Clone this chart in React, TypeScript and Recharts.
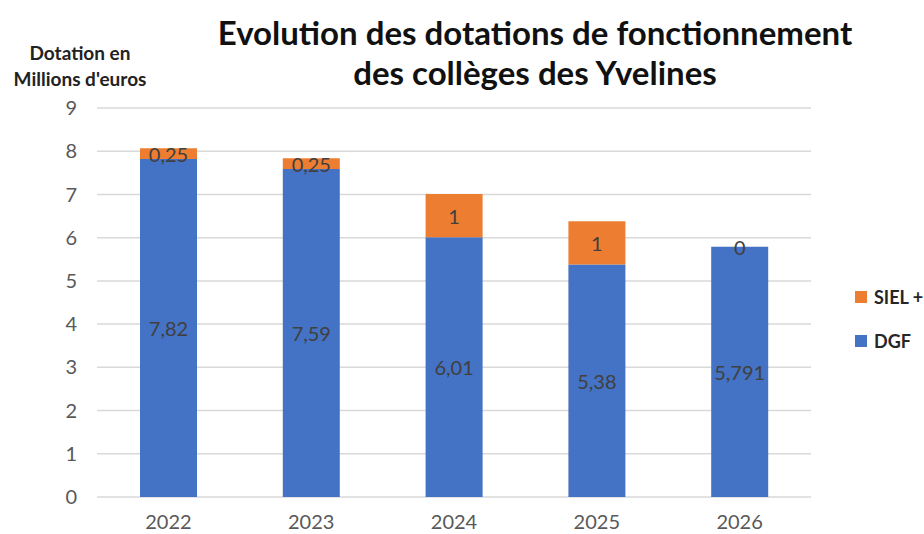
import React from 'react';
import { BarChart, Bar, XAxis, YAxis, CartesianGrid, LabelList } from 'recharts';

const years = ['2022', '2023', '2024', '2025', '2026'];
const dgf = [7.82, 7.59, 6.01, 5.38, 5.791];
const siel = [0.25, 0.25, 1, 1, 0];
const yTicks = [0, 1, 2, 3, 4, 5, 6, 7, 8, 9];
const series = [
  { key: 'siel', name: 'SIEL +', color: '#ED7D31' },
  { key: 'dgf', name: 'DGF', color: '#4472C4' },
];

const rows = years.map((year, i) => ({ year, dgf: dgf[i], siel: siel[i] }));

const fmt = (v: any) => String(v).replace('.', ',');

const FONT = 'Lato, "Open Sans", sans-serif';

const textProps = { textAnchor: 'middle' as const, dominantBaseline: 'central' as const, fill: '#404040', fontSize: 20, fontFamily: FONT };

const SegmentLabel = (props: any) => {
  const { x, y, width, height, value } = props;
  return (
    <text x={x + width / 2} y={y + height / 2} {...textProps}>
      {fmt(value)}
    </text>
  );
};

// the zero-height SIEL segment is not drawn, so its "0" goes on top of the DGF bar
const DgfLabel = (props: any) => {
  const { x, y, width, height, value, index } = props;
  return (
    <g>
      <text x={x + width / 2} y={y + height / 2} {...textProps}>
        {fmt(value)}
      </text>
      {siel[index] === 0 && (
        <text x={x + width / 2} y={y} {...textProps}>
          {fmt(siel[index])}
        </text>
      )}
    </g>
  );
};

export default function App() {
  return (
    <div style={{ position: 'absolute', left: 0, top: 0, width: 924, height: 534, background: '#fff', fontFamily: FONT }}>
      <div style={{ position: 'absolute', left: 140, width: 790, top: 12, textAlign: 'center', fontSize: 33, fontWeight: 700, lineHeight: '40px', color: '#111' }}>
        Evolution des dotations de fonctionnement
        <br />
        des collèges des Yvelines
      </div>
      <div style={{ position: 'absolute', left: 0, width: 160, top: 40, textAlign: 'center', fontSize: 19, fontWeight: 700, lineHeight: '26px', color: '#222' }}>
        Dotation en
        <br />
        Millions d'euros
      </div>
      <div style={{ position: 'absolute', left: 855, top: 275 }}>
        {series.map((s) => (
          <div key={s.key} style={{ display: 'flex', alignItems: 'center', height: 44 }}>
            <span style={{ width: 12, height: 12, background: s.color, display: 'inline-block', marginRight: 7 }} />
            <span style={{ fontSize: 18, fontWeight: 700, color: '#262626' }}>{s.name}</span>
          </div>
        ))}
      </div>
      <BarChart width={924} height={534} data={rows} margin={{ top: 108, right: 113, bottom: 7, left: 0 }} barSize={57}>
        <CartesianGrid vertical={false} stroke="#d9d9d9" strokeWidth={1.5} />
        <XAxis dataKey="year" height={30} axisLine={false} tickLine={false} tickMargin={12} tick={{ fill: '#595959', fontSize: 20, fontFamily: FONT }} />
        <YAxis width={97} domain={[0, 9]} ticks={yTicks} interval={0} axisLine={false} tickLine={false} tickMargin={14} tick={{ fill: '#595959', fontSize: 20, fontFamily: FONT }} />
        <Bar dataKey="dgf" name="DGF" stackId="a" fill="#4472C4" isAnimationActive={false}>
          <LabelList dataKey="dgf" content={<DgfLabel />} />
        </Bar>
        <Bar dataKey="siel" name="SIEL +" stackId="a" fill="#ED7D31" isAnimationActive={false}>
          <LabelList dataKey="siel" content={<SegmentLabel />} />
        </Bar>
      </BarChart>
    </div>
  );
}
